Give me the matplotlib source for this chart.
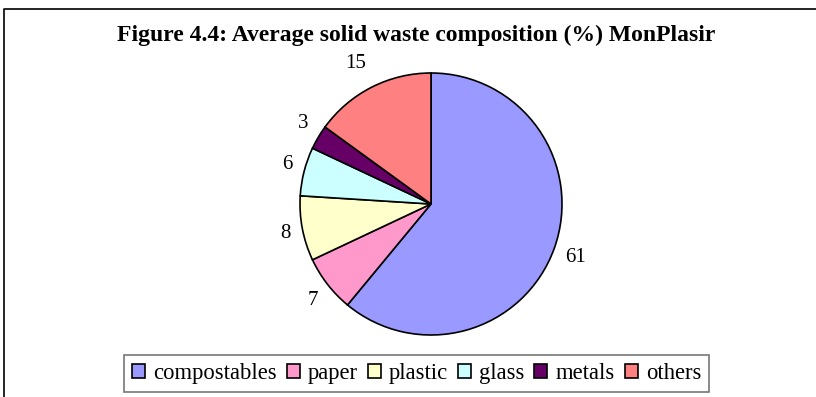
import numpy as np
import matplotlib.pyplot as plt
from matplotlib.lines import Line2D
from matplotlib.patches import Patch

# waste composition in percent
categories = ['compostables', 'paper', 'plastic', 'glass', 'metals', 'others']
shares = [61, 7, 8, 6, 3, 15]
colours = ['#9999FF', '#FF99CC', '#FFFFCC', '#CCFFFF', '#660066', '#FF8080']

plt.rcParams['font.family'] = ['Liberation Serif', 'DejaVu Serif']

W, H = 816, 397
fig = plt.figure(figsize=(W / 100, H / 100), dpi=100)

# pie axes: centre (431, 204) px, radius 131 px
cx, cy, r = 431, 204, 131
ax = fig.add_axes([(cx - r) / W, (H - cy - r) / H, 2 * r / W, 2 * r / H])
wedges, texts = ax.pie(shares, labels=[str(v) for v in shares], colors=colours,
                       startangle=90, counterclock=False, labeldistance=1.09,
                       wedgeprops=dict(edgecolor='black', linewidth=1.2),
                       textprops=dict(fontsize=15))
ax.set_xlim(-1, 1)
ax.set_ylim(-1, 1)
ax.set_aspect('equal')

# push labels outward so the box edge, not its centre, sits near the rim
for w, t in zip(wedges, texts):
    mid = np.deg2rad((w.theta1 + w.theta2) / 2)
    x, y = t.get_position()
    t.set_position((x, y + 0.11 * np.sin(mid)))
    t.set_clip_on(False)

fig.text(416 / W, 1 - 41 / H, 'Figure 4.4: Average solid waste composition (%) MonPlasir',
         ha='center', va='baseline', fontsize=17, fontweight='bold')

handles = [Patch(facecolor=c, edgecolor='black', linewidth=1.2) for c in colours]
leg = fig.legend(handles, categories, ncol=6, loc='center',
                 bbox_to_anchor=(416.5 / W, 1 - 373.4 / H), fontsize=16.3,
                 frameon=True, fancybox=False, handlelength=0.58, handleheight=0.58,
                 handletextpad=0.35, columnspacing=0.44, borderpad=0.35,
                 borderaxespad=0)
leg.get_frame().set_edgecolor('#555555')
leg.get_frame().set_linewidth(1.2)

# outer frame (left and top edges)
fig.add_artist(Line2D([4 / W, 4 / W, 1.0], [0.0, 1 - 9 / H, 1 - 9 / H],
                      transform=fig.transFigure, color='black', linewidth=1.2))

fig.savefig('out.png', dpi=100)
